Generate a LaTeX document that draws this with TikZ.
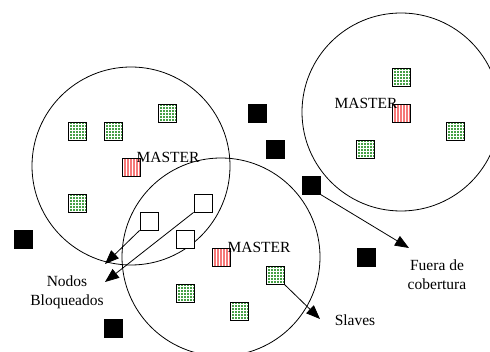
\documentclass[tikz,border=0pt]{standalone}
\usepackage{fontspec}
\setmainfont{Liberation Serif}
\usetikzlibrary{patterns,arrows.meta}
\definecolor{slavegreen}{RGB}{70,160,70}
\definecolor{masterred}{RGB}{245,120,120}
\begin{document}
\begin{tikzpicture}[x=1pt,y=-1pt,
        nodo/.style={draw,line width=0.8pt,minimum size=18pt,inner sep=0pt},
        slave/.style={nodo,preaction={fill=slavegreen},pattern=grid,pattern color=white},
        master/.style={nodo,preaction={fill=masterred},pattern=vertical lines,pattern color=white},
        bloq/.style={nodo,fill=white},
        fuera/.style={nodo,fill=black},
        rango/.style={draw,line width=0.8pt},
        flecha/.style={-{Triangle[length=14pt,width=11pt]},line width=0.8pt},
        etiq/.style={font=\fontsize{15.5}{19}\selectfont,align=center,inner sep=0pt}]
                \useasboundingbox (0,0) rectangle (490,352);

                % radios de cobertura
                \draw[rango] (131,166) circle[radius=99pt];
                \draw[rango] (221,257) circle[radius=99pt];
                \draw[rango] (401,112) circle[radius=99pt];

                % piconet izquierda
                \node[slave] (sa1) at (77,131) {};
                \node[slave] (sa2) at (113,131) {};
                \node[slave] (sa3) at (167,113) {};
                \node[slave] (sa4) at (77,203) {};
                \node[master] (ma) at (131,167) {};
                \node[etiq] (lma) at (168,157) {MASTER};

                % piconet central
                \node[master] (mb) at (221,257) {};
                \node[etiq] (lmb) at (259,247) {MASTER};
                \node[slave] (sb1) at (275,275) {};
                \node[slave] (sb2) at (185,293) {};
                \node[slave] (sb3) at (239,311) {};

                % piconet derecha
                \node[slave] (sc1) at (401,77) {};
                \node[master] (mc) at (401,113) {};
                \node[slave] (sc2) at (455,131) {};
                \node[slave] (sc3) at (365,149) {};
                \node[etiq] (lmc) at (366,103) {MASTER};

                % nodos bloqueados
                \node[bloq] (b1) at (149,221) {};
                \node[bloq] (b2) at (203,203) {};
                \node[bloq] (b3) at (185,239) {};

                % fuera de cobertura
                \node[fuera] (f1) at (23,239) {};
                \node[fuera] (f2) at (113,328) {};
                \node[fuera] (f3) at (257,113) {};
                \node[fuera] (f4) at (275,149) {};
                \node[fuera] (f5) at (311,185) {};
                \node[fuera] (f6) at (366,257) {};

                % etiquetas
                \coordinate (pb1) at (105,264);
                \coordinate (pb2) at (105,282);
                \coordinate (ps) at (320,319);
                \coordinate (pf) at (409,248);
                \node[etiq] (lbloq) at (67,292) {Nodos\\Bloqueados};
                \node[etiq] (lslave) at (355,320) {Slaves};
                \node[etiq] (lfuera) at (437,275) {Fuera de\\cobertura};

                \draw[flecha] (b1.south west) -- (pb1);
                \draw[flecha] (b2.south west) -- (pb2);
                \draw[flecha] (sb1.south east) -- (ps);
                \draw[flecha] (f5.south east) -- (pf);
\end{tikzpicture}
\end{document}
